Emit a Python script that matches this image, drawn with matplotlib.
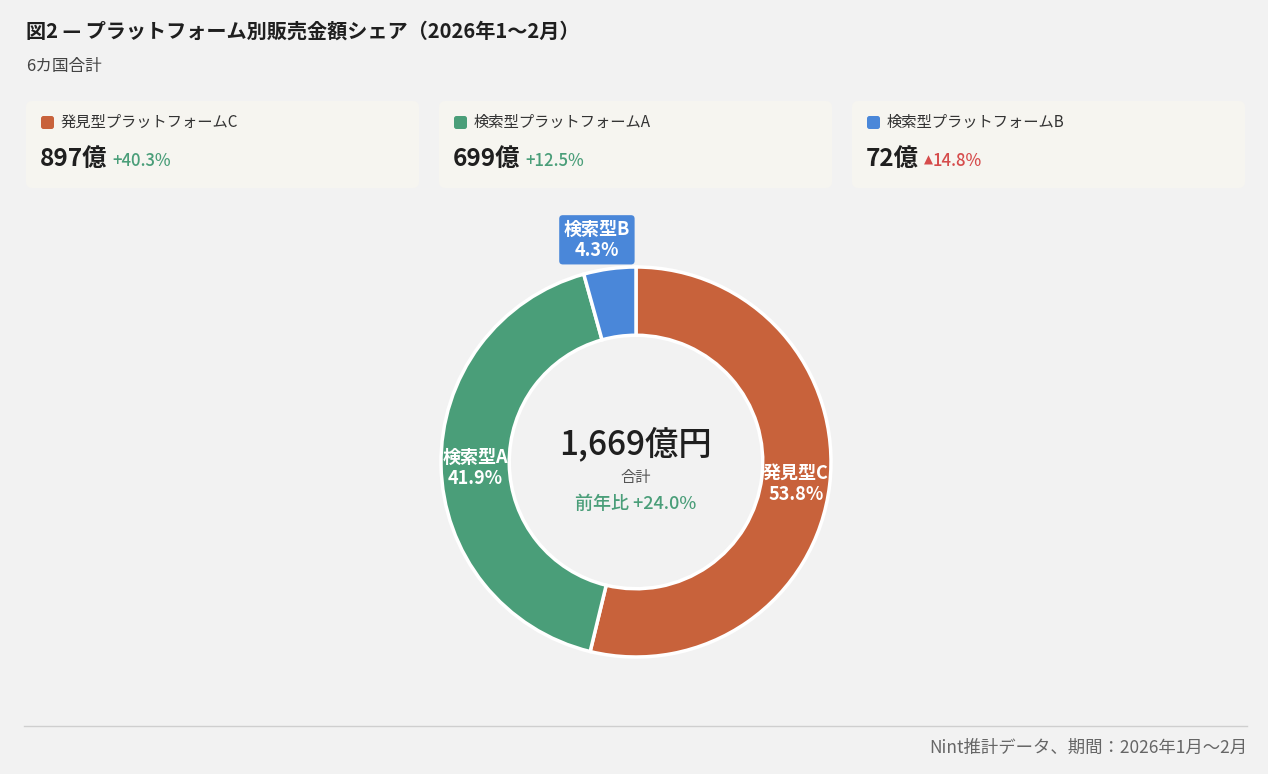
import matplotlib
matplotlib.use("Agg")
import matplotlib.pyplot as plt
import numpy as np
from matplotlib.patches import FancyBboxPatch

plt.rcParams["font.family"] = ["Noto Sans CJK JP", "DejaVu Sans"]

# データ
platforms = ["発見型プラットフォームC", "検索型プラットフォームA", "検索型プラットフォームB"]
short_names = ["発見型C", "検索型A", "検索型B"]
sales = [897, 699, 72]  # 億円
value_labels = ["897億", "699億", "72億"]
yoy_labels = ["+40.3%", "+12.5%", "▲14.8%"]
share_labels = ["53.8%", "41.9%", "4.3%"]
total_label = "1,669億円"
total_yoy = "前年比 +24.0%"

COLORS = ["#c8623b", "#4a9e79", "#4a87d9"]
YOY_COLORS = ["#4a9e79", "#4a9e79", "#d64c4c"]
BG = "#f2f2f2"
CARD = "#f6f5f0"
DARK = "#1f1f1f"
GREY = "#555555"

W, H = 1268, 774
fig = plt.figure(figsize=(W / 100, H / 100), dpi=100)
fig.patch.set_facecolor(BG)

# pixel overlay
ax = fig.add_axes([0, 0, 1, 1])
ax.set_xlim(0, W)
ax.set_ylim(H, 0)
ax.axis("off")

ax.text(26, 31, "図2 — プラットフォーム別販売金額シェア（2026年1〜2月）",
        fontsize=14.5, fontweight="bold", color=DARK, va="center", ha="left")
ax.text(26, 67, "6カ国合計", fontsize=12, color="#444444", va="center", ha="left")

# KPI cards
card_x = [26, 439, 852]
card_w = 393
renderer = fig.canvas.get_renderer()
for i in range(3):
    x0 = card_x[i]
    ax.add_patch(FancyBboxPatch((x0, 101), card_w, 87,
                                boxstyle="round,pad=0,rounding_size=6",
                                fc=CARD, ec="none", zorder=1))
    ax.add_patch(FancyBboxPatch((x0 + 15, 116), 13, 13,
                                boxstyle="round,pad=0,rounding_size=2.5",
                                fc=COLORS[i], ec="none", zorder=2))
    ax.text(x0 + 35, 122, platforms[i], fontsize=11, color="#333333",
            va="center", ha="left", zorder=3)
    t = ax.text(x0 + 14, 159, value_labels[i], fontsize=17.5, fontweight="bold",
                color=DARK, va="center", ha="left", zorder=3)
    bb = t.get_window_extent(renderer=renderer)
    lab = yoy_labels[i]
    xt = bb.x1 + 5
    if lab.startswith("▲"):
        # 小さめの三角
        tri = ax.text(xt, 160, "▲", fontsize=8.5, color=YOY_COLORS[i],
                      va="center", ha="left", zorder=3, family="DejaVu Sans")
        xt = tri.get_window_extent(renderer=renderer).x1
        lab = lab[1:]
    ax.text(xt, 161, lab, fontsize=12, fontweight="medium",
            color=YOY_COLORS[i], va="center", ha="left", zorder=3)

# footer
ax.plot([24, 1247], [726, 726], color="#cfcfcf", lw=1)
ax.text(1247, 748, "Nint推計データ、期間：2026年1月〜2月", fontsize=12.5,
        color="#666666", va="center", ha="right")

# donut
cx, cy, R = 636, 462, 195
half = 210
pax = fig.add_axes([(cx - half) / W, (H - cy - half) / H, 2 * half / W, 2 * half / H])

wedges, _ = pax.pie(sales, colors=COLORS, startangle=90, counterclock=False,
                    radius=1, wedgeprops=dict(width=0.35, edgecolor="white", linewidth=2.5))
lim = half / R
pax.set_xlim(-lim, lim)
pax.set_ylim(-lim, lim)
pax.set_aspect("equal")
pax.axis("off")

total = sum(sales)
start = 90.0
for i, v in enumerate(sales):
    sweep = v / total * 360
    mid = np.deg2rad(start - sweep / 2)
    start -= sweep
    if i < 2:
        r = 0.825
        pax.text(r * np.cos(mid), r * np.sin(mid) - 0.015,
                 f"{short_names[i]}\n{share_labels[i]}",
                 ha="center", va="center", color="white", fontsize=13,
                 fontweight="bold", linespacing=1.15)
    else:
        r = 1.15
        pax.text(r * np.cos(mid) - 0.045, r * np.sin(mid),
                 f"{short_names[i]}\n{share_labels[i]}",
                 ha="center", va="center", color="white", fontsize=13,
                 fontweight="bold", linespacing=1.15,
                 bbox=dict(boxstyle="round,pad=0.25,rounding_size=0.2",
                           fc=COLORS[i], ec="none"))

pax.text(0, 0.09, total_label, ha="center", va="center", fontsize=24,
         fontweight="medium", color=DARK)
pax.text(0, -0.08, "合計", ha="center", va="center", fontsize=11, color=GREY)
pax.text(0, -0.215, total_yoy, ha="center", va="center", fontsize=13,
         fontweight="medium", color="#4a9e79")

fig.savefig("out.png", dpi=100, facecolor=BG)
